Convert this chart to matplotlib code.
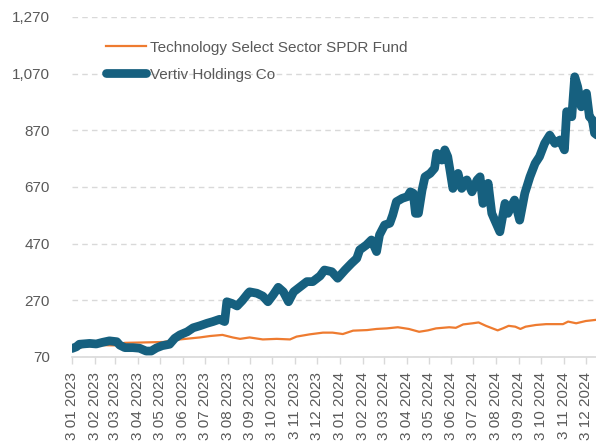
import pandas as pd
import matplotlib.pyplot as plt
from matplotlib.ticker import FuncFormatter

plt.rcParams['font.family'] = ['Liberation Sans', 'DejaVu Sans']

# Vertiv Holdings Co (indexed)
vrt_dates = [
    "2023-01-03", "2023-01-09", "2023-01-13", "2023-01-27", "2023-02-05", "2023-02-14",
    "2023-02-23", "2023-03-05", "2023-03-09", "2023-03-16", "2023-03-27", "2023-04-05",
    "2023-04-14", "2023-04-21", "2023-04-28", "2023-05-06", "2023-05-16", "2023-05-23",
    "2023-05-30", "2023-06-09", "2023-06-17", "2023-06-26", "2023-07-06", "2023-07-14",
    "2023-07-23", "2023-07-30", "2023-08-02", "2023-08-09", "2023-08-16", "2023-08-23",
    "2023-08-31", "2023-09-02", "2023-09-12", "2023-09-20", "2023-09-27", "2023-10-04",
    "2023-10-11", "2023-10-18", "2023-10-25", "2023-11-01", "2023-11-10", "2023-11-19",
    "2023-11-27", "2023-12-07", "2023-12-13", "2023-12-23", "2023-12-31", "2024-01-10",
    "2024-01-19", "2024-01-26", "2024-01-30", "2024-02-08", "2024-02-15", "2024-02-22",
    "2024-02-26", "2024-03-04", "2024-03-11", "2024-03-15", "2024-03-20", "2024-03-28",
    "2024-04-04", "2024-04-08", "2024-04-12", "2024-04-15", "2024-04-19", "2024-04-24",
    "2024-04-28", "2024-05-05", "2024-05-11", "2024-05-14", "2024-05-21", "2024-05-25",
    "2024-05-29", "2024-06-01", "2024-06-05", "2024-06-12", "2024-06-17", "2024-06-24",
    "2024-07-01", "2024-07-08", "2024-07-12", "2024-07-16", "2024-07-23", "2024-07-28",
    "2024-08-01", "2024-08-08", "2024-08-15", "2024-08-19", "2024-08-28", "2024-09-04",
    "2024-09-11", "2024-09-18", "2024-09-25", "2024-10-01", "2024-10-08", "2024-10-15",
    "2024-10-22", "2024-10-29", "2024-11-04", "2024-11-07", "2024-11-14", "2024-11-18",
    "2024-11-22", "2024-11-27", "2024-12-04", "2024-12-08", "2024-12-12", "2024-12-15",
    "2024-12-20",
]
vrt_values = [
    100, 106, 115, 118, 116, 122,
    127, 124, 112, 103, 103, 101,
    91, 91, 102, 110, 115, 136,
    148, 159, 173, 180, 189, 195,
    203, 195, 265, 259, 250, 269,
    295, 300, 295, 285, 265, 289,
    316, 300, 265, 300, 318, 336,
    336, 356, 377, 371, 348, 377,
    401, 418, 448, 465, 483, 442,
    501, 536, 542, 571, 618, 630,
    636, 653, 648, 577, 577, 659,
    706, 718, 736, 789, 765, 801,
    777, 730, 665, 718, 665, 695,
    653, 695, 706, 612, 683, 577,
    553, 512, 612, 577, 624, 553,
    648, 706, 753, 777, 824, 853,
    824, 836, 801, 936, 918, 1059,
    1024, 953, 1001, 918, 907, 860,
    850,
]

# Technology Select Sector SPDR Fund (indexed)
xlk_dates = [
    "2023-01-03", "2023-01-20", "2023-02-10", "2023-03-02", "2023-03-16", "2023-04-05",
    "2023-05-07", "2023-05-30", "2023-06-26", "2023-07-10", "2023-07-27", "2023-08-10",
    "2023-08-20", "2023-09-02", "2023-09-20", "2023-10-09", "2023-10-27", "2023-11-05",
    "2023-11-23", "2023-12-11", "2023-12-24", "2024-01-07", "2024-01-21", "2024-02-09",
    "2024-02-22", "2024-03-07", "2024-03-22", "2024-04-06", "2024-04-20", "2024-05-02",
    "2024-05-13", "2024-05-31", "2024-06-09", "2024-06-19", "2024-07-02", "2024-07-10",
    "2024-07-20", "2024-07-29", "2024-08-05", "2024-08-12", "2024-08-20", "2024-08-29",
    "2024-09-05", "2024-09-12", "2024-09-26", "2024-10-10", "2024-10-23", "2024-11-02",
    "2024-11-09", "2024-11-20", "2024-12-03", "2024-12-20",
]
xlk_values = [
    100, 106, 112, 111, 120, 121,
    123, 132, 139, 144, 148, 139,
    134, 139, 132, 134, 132, 142,
    150, 156, 156, 151, 163, 165,
    169, 171, 175, 169, 159, 164,
    171, 175, 173, 185, 189, 192,
    180, 171, 164, 171, 180, 177,
    169, 177, 183, 186, 186, 186,
    195, 189, 197, 202,
]

tick_dates = pd.date_range("2023-01-01", periods=24, freq="MS") + pd.Timedelta(days=2)
tick_labels = [f"3 {d.month:02d} {d.year}" for d in tick_dates]

fig = plt.figure(figsize=(5.96, 4.41), dpi=100)
ax = fig.add_axes([72 / 596, 1 - 357 / 441, 1 - 72 / 596, 340 / 441])

ax.plot(pd.to_datetime(xlk_dates), xlk_values, color="#EE7B30", lw=1.6,
        label="Technology Select Sector SPDR Fund", zorder=3)
ax.plot(pd.to_datetime(vrt_dates), vrt_values, color="#16607F", lw=6.3,
        solid_capstyle="round", solid_joinstyle="round",
        label="Vertiv Holdings Co", zorder=4)

ax.set_ylim(70, 1270)
ax.set_yticks(range(70, 1271, 200))
ax.yaxis.set_major_formatter(FuncFormatter(lambda v, p: f"{int(v):,}"))
ax.set_xticks(tick_dates)
ax.set_xticklabels(tick_labels, rotation=90)
ax.set_xlim(pd.Timestamp("2023-01-03"), pd.Timestamp("2024-12-17"))

ax.grid(axis="y", color="#D9D9D9", ls=(0, (4, 3)), lw=1)
ax.set_axisbelow(True)
for s in ["top", "right", "left"]:
    ax.spines[s].set_visible(False)
ax.spines["bottom"].set_color("#D9D9D9")
ax.spines["bottom"].set_linewidth(1.2)
ax.tick_params(axis="y", length=0, pad=16, labelsize=11, labelcolor="#595959")
ax.tick_params(axis="x", length=5, color="#D9D9D9", width=1, pad=6,
               labelsize=11, labelcolor="#595959")

leg = ax.legend(loc="upper left", bbox_to_anchor=(0.065, 0.93), frameon=False,
                fontsize=11, handlelength=2.6, handletextpad=0.25, labelspacing=0.85,
                borderpad=0, borderaxespad=0)
for t in leg.get_texts():
    t.set_color("#595959")

fig.savefig("out.png", dpi=100)
